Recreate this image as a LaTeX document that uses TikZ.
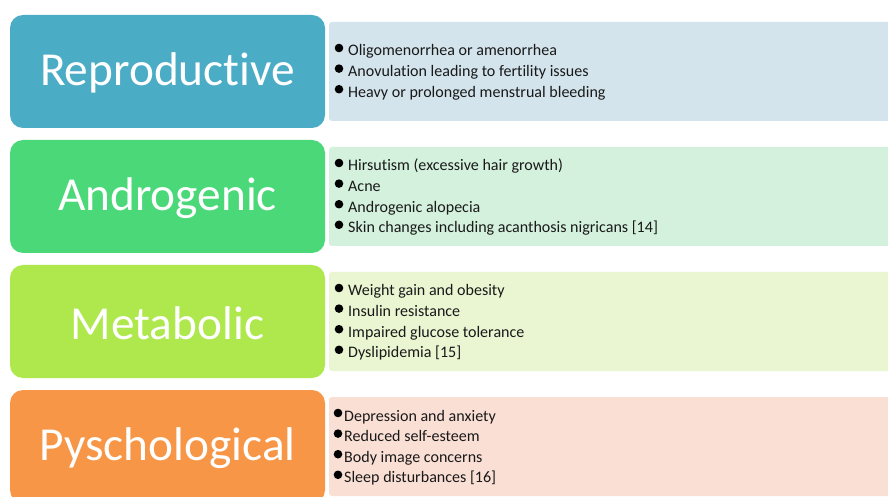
\documentclass[tikz,border=0pt]{standalone}
\usepackage{fontspec}
\setmainfont{Carlito}[RawFeature={-liga}]
\begin{document}
\begin{tikzpicture}[x=1bp,y=-1bp,
  catbox/.style={rounded corners=13bp, draw=none},
  listbox/.style={rounded corners=3bp, draw=none},
  cattext/.style={text=white, font=\fontsize{47.5}{52}\selectfont, anchor=center},
  itemtext/.style={anchor=base west, inner sep=0pt, font=\fontsize{16.1}{19}\selectfont, text=black!90},
  dot/.style={fill=black, draw=none}]
\definecolor{repA}{HTML}{4BACC6}\definecolor{repB}{HTML}{D3E4EC}
\definecolor{andA}{HTML}{4AD879}\definecolor{andB}{HTML}{D3F1DC}
\definecolor{metA}{HTML}{AEE84C}\definecolor{metB}{HTML}{EAF5D2}
\definecolor{psyA}{HTML}{F79646}\definecolor{psyB}{HTML}{FADFD5}
\useasboundingbox (0,0) rectangle (888,497);
\fill[white] (0,0) rectangle (888,497);

% category rows: light list panel, coloured heading box, heading
\foreach \r/\ca/\cb/\name in {0/repA/repB/Reproductive, 1/andA/andB/Androgenic, 2/metA/metB/Metabolic, 3/psyA/psyB/Pyschological}{
  \pgfmathsetmacro{\top}{15+125*\r}
  \fill[listbox, \cb] (329,\top+7) rectangle (892,\top+106);
  \fill[catbox, \ca] (10,\top) rectangle (325,\top+113);
  \node[cattext] (cat\r) at (167.5,\top+58) {\name};
}

% bullet items: row, line, bullet x, text x, text
\foreach \r/\l/\bx/\tx/\txt in {
  0/0/339/348/Oligomenorrhea or amenorrhea,
  0/1/339/348/Anovulation leading to fertility issues,
  0/2/339/348/Heavy or prolonged menstrual bleeding,
  1/0/339/348/Hirsutism (excessive hair growth),
  1/1/339/348/Acne,
  1/2/339/348/Androgenic alopecia,
  1/3/339/348/Skin changes including acanthosis nigricans [14],
  2/0/339/348/Weight gain and obesity,
  2/1/339/348/Insulin resistance,
  2/2/339/348/Impaired glucose tolerance,
  2/3/339/348/Dyslipidemia [15],
  3/0/338/344/Depression and anxiety,
  3/1/338/344/Reduced self-esteem,
  3/2/338/344/Body image concerns,
  3/3/338/344/Sleep disturbances [16]}{
  \pgfmathsetmacro{\first}{\r==0 ? 56 : 171+125*(\r-1)}
  \pgfmathsetmacro{\base}{\first+20.6*\l}
  \fill[dot] (\bx,\base-8) circle (4.3);
  \node[itemtext] (item\r\l) at (\tx,\base) {\txt};
}
\end{tikzpicture}
\end{document}
